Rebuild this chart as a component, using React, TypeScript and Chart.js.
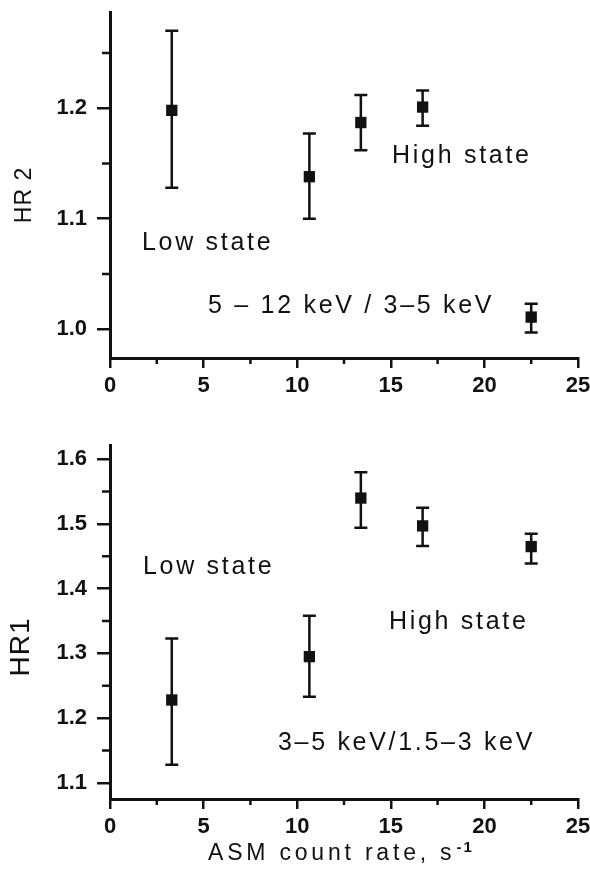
import React, { useEffect, useRef } from 'react';
import { Chart, registerables } from 'chart.js';

Chart.register(...registerables);

// ---- data ----
const asmRate = [3.3, 10.65, 13.4, 16.7, 22.5];

const hr2 = [1.198, 1.138, 1.187, 1.201, 1.011];
const hr2Low = [1.128, 1.1, 1.162, 1.184, 0.997];
const hr2High = [1.27, 1.177, 1.212, 1.216, 1.023];

const hr1 = [1.228, 1.295, 1.54, 1.497, 1.465];
const hr1Low = [1.128, 1.233, 1.494, 1.466, 1.439];
const hr1High = [1.323, 1.358, 1.58, 1.525, 1.485];

const xMajor = [0, 5, 10, 15, 20, 25];
const xMinor = [2.5, 7.5, 12.5, 17.5, 22.5];
const hr2Major = [1.0, 1.1, 1.2];
const hr2Minor = [1.05, 1.15, 1.25];
const hr1Major = [1.1, 1.2, 1.3, 1.4, 1.5, 1.6];
const hr1Minor = [1.15, 1.25, 1.35, 1.45, 1.55];

const hr2Notes = ['Low state', 'High state', '5 \u2013 12 keV / 3\u20135 keV'];
const hr1Notes = ['Low state', 'High state', '3\u20135 keV/1.5\u20133 keV'];

// anchors (data coordinates) for the annotation texts
const hr2NoteAt = [
  [1.71, 1.078],
  [15.07, 1.157],
  [5.24, 1.021],
];
const hr1NoteAt = [
  [1.76, 1.433],
  [14.9, 1.348],
  [8.97, 1.162],
];

const FONT = '"Liberation Sans", Arial, sans-serif';

type PanelCfg = {
  y: number[];
  lo: number[];
  hi: number[];
  yMin: number;
  yMax: number;
  yMajor: number[];
  yMinor: number[];
  notes: string[];
  noteAt: number[][];
  yTitle: string;
  yTitleFont: number;
  yTitleDx: number;
  yTitleDy: number;
  padTop: number;
  xAxisHeight: number;
  xTitle: boolean;
};

function makeChart(canvas: HTMLCanvasElement, cfg: PanelCfg) {
  const plugin = {
    id: 'extras',
    beforeDatasetsDraw(chart: any) {
      const ctx = chart.ctx;
      const xs = chart.scales.x;
      const ys = chart.scales.y;
      ctx.save();
      ctx.strokeStyle = '#111';
      ctx.lineWidth = 2.5;
      for (let i = 0; i < asmRate.length; i++) {
        const px = xs.getPixelForValue(asmRate[i]);
        const pLo = ys.getPixelForValue(cfg.lo[i]);
        const pHi = ys.getPixelForValue(cfg.hi[i]);
        ctx.beginPath();
        ctx.moveTo(px, pLo);
        ctx.lineTo(px, pHi);
        ctx.moveTo(px - 6.5, pLo);
        ctx.lineTo(px + 6.5, pLo);
        ctx.moveTo(px - 6.5, pHi);
        ctx.lineTo(px + 6.5, pHi);
        ctx.stroke();
      }
      ctx.restore();
    },
    afterDraw(chart: any) {
      const ctx = chart.ctx;
      const xs = chart.scales.x;
      const ys = chart.scales.y;
      const area = chart.chartArea;
      ctx.save();
      ctx.strokeStyle = '#111';
      ctx.lineWidth = 2.5;
      // minor ticks
      ctx.beginPath();
      for (const v of xMinor) {
        const px = xs.getPixelForValue(v);
        ctx.moveTo(px, area.bottom);
        ctx.lineTo(px, area.bottom + 6);
      }
      for (const v of cfg.yMinor) {
        const py = ys.getPixelForValue(v);
        ctx.moveTo(area.left, py);
        ctx.lineTo(area.left - 8, py);
      }
      ctx.stroke();

      // annotations
      ctx.fillStyle = '#111';
      ctx.font = `25px ${FONT}`;
      (ctx as any).letterSpacing = '2.7px';
      ctx.textAlign = 'left';
      ctx.textBaseline = 'middle';
      cfg.notes.forEach((t, i) => {
        const [vx, vy] = cfg.noteAt[i];
        ctx.fillText(t, xs.getPixelForValue(vx), ys.getPixelForValue(vy));
      });

      // y title
      (ctx as any).letterSpacing = '1px';
      ctx.save();
      ctx.translate(area.left + cfg.yTitleDx, area.top + cfg.yTitleDy);
      ctx.rotate(-Math.PI / 2);
      ctx.textAlign = 'center';
      ctx.textBaseline = 'middle';
      ctx.font = `${cfg.yTitleFont}px ${FONT}`;
      ctx.fillText(cfg.yTitle, 0, 0);
      ctx.restore();

      // x title
      if (cfg.xTitle) {
        ctx.font = `23px ${FONT}`;
        (ctx as any).letterSpacing = '3.8px';
        ctx.textAlign = 'left';
        ctx.textBaseline = 'alphabetic';
        const tx = area.left + 98;
        const ty = area.bottom + 61;
        ctx.fillText('ASM count rate, s', tx, ty);
        const w = ctx.measureText('ASM count rate, s').width;
        ctx.font = `bold 15px ${FONT}`;
        (ctx as any).letterSpacing = '2px';
        ctx.fillText('-1', tx + w + 1, area.bottom + 53);
      }
      ctx.restore();
    },
  };

  return new Chart(canvas, {
    type: 'scatter',
    data: {
      datasets: [
        {
          data: asmRate.map((x, i) => ({ x, y: cfg.y[i] })),
          pointStyle: 'rect',
          pointRadius: 8,
          pointHoverRadius: 8,
          backgroundColor: '#111',
          borderColor: '#111',
          borderWidth: 0,
          showLine: false,
        },
      ],
    },
    options: {
      animation: false,
      responsive: false,
      maintainAspectRatio: false,
      events: [],
      layout: { padding: { top: cfg.padTop, right: 12, left: 0, bottom: 0 } },
      plugins: { legend: { display: false }, tooltip: { enabled: false } },
      scales: {
        x: {
          type: 'linear',
          min: 0,
          max: 25,
          afterBuildTicks: (s: any) => {
            s.ticks = xMajor.map((v) => ({ value: v }));
          },
          afterFit: (s: any) => {
            s.height = cfg.xAxisHeight;
            s.paddingLeft = 0;
            s.paddingRight = 0;
          },
          border: { display: true, color: '#111', width: 3 },
          grid: {
            drawOnChartArea: false,
            drawTicks: true,
            tickLength: 10,
            color: '#111',
            lineWidth: 2.5,
          },
          ticks: {
            color: '#111',
            padding: 5,
            maxRotation: 0,
            autoSkip: false,
            font: { family: FONT, size: 22, weight: 'bold' },
            callback: (v: any) => String(v),
          },
        },
        y: {
          type: 'linear',
          min: cfg.yMin,
          max: cfg.yMax,
          afterBuildTicks: (s: any) => {
            s.ticks = cfg.yMajor.map((v) => ({ value: v }));
          },
          afterFit: (s: any) => {
            s.width = 110;
            s.paddingTop = 0;
            s.paddingBottom = 0;
          },
          border: { display: true, color: '#111', width: 3 },
          grid: {
            drawOnChartArea: false,
            drawTicks: true,
            tickLength: 13,
            color: '#111',
            lineWidth: 2.5,
          },
          ticks: {
            color: '#111',
            padding: 10,
            autoSkip: false,
            font: { family: FONT, size: 22, weight: 'bold' },
            callback: (v: any) => Number(v).toFixed(1),
          },
        },
      },
    },
    plugins: [plugin],
  } as any);
}

export default function App() {
  const topRef = useRef<HTMLCanvasElement | null>(null);
  const botRef = useRef<HTMLCanvasElement | null>(null);

  useEffect(() => {
    const c1 = makeChart(topRef.current!, {
      y: hr2,
      lo: hr2Low,
      hi: hr2High,
      yMin: 0.974,
      yMax: 1.287,
      yMajor: hr2Major,
      yMinor: hr2Minor,
      notes: hr2Notes,
      noteAt: hr2NoteAt,
      yTitle: 'HR 2',
      yTitleFont: 23,
      yTitleDx: -85,
      yTitleDy: 183,
      padTop: 12,
      xAxisHeight: 52,
      xTitle: false,
    });
    const c2 = makeChart(botRef.current!, {
      y: hr1,
      lo: hr1Low,
      hi: hr1High,
      yMin: 1.075,
      yMax: 1.622,
      yMajor: hr1Major,
      yMinor: hr1Minor,
      notes: hr1Notes,
      noteAt: hr1NoteAt,
      yTitle: 'HR1',
      yTitleFont: 28,
      yTitleDx: -89,
      yTitleDy: 202,
      padTop: 35,
      xAxisHeight: 73,
      xTitle: true,
    });
    return () => {
      c1.destroy();
      c2.destroy();
    };
  }, []);

  return (
    <div
      style={{
        position: 'absolute',
        left: 0,
        top: 0,
        width: 590,
        height: 872,
        background: '#fff',
        overflow: 'hidden',
      }}
    >
      <canvas
        ref={topRef}
        width={590}
        height={410}
        style={{ position: 'absolute', left: 0, top: 0, width: 590, height: 410 }}
      />
      <canvas
        ref={botRef}
        width={590}
        height={462}
        style={{ position: 'absolute', left: 0, top: 410, width: 590, height: 462 }}
      />
    </div>
  );
}
